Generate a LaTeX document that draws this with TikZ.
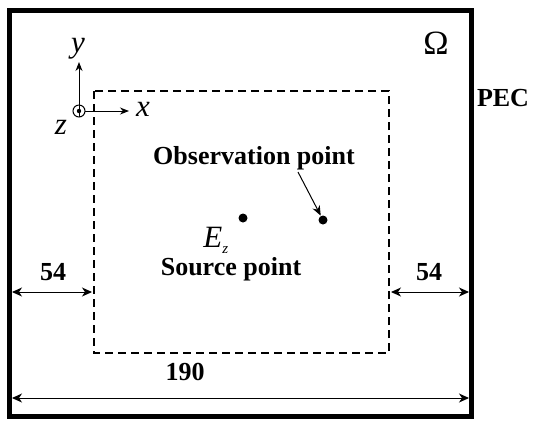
\documentclass[tikz,border=0pt]{standalone}
\usepackage{fontspec}
\setmainfont{Liberation Serif}
\usetikzlibrary{arrows.meta}
\begin{document}
\begin{tikzpicture}[x=0.5pt,y=-0.5pt,
  lbl/.style={font=\fontsize{13}{15}\selectfont\bfseries, inner sep=0pt},
  mathlbl/.style={font=\fontsize{15.5}{17}\selectfont\itshape, inner sep=0pt},
  dimarrow/.style={line width=0.5pt, {Stealth[length=5pt,width=4.5pt,inset=1.5pt]}-{Stealth[length=5pt,width=4.5pt,inset=1.5pt]}},
  axarrow/.style={line width=0.5pt, -{Stealth[length=4.5pt,width=3.5pt]}},
  dot/.style={circle, fill=black, inner sep=0pt, minimum size=4.5pt}]
\useasboundingbox (0,0) rectangle (536,420);
% outer PEC box
\draw[line width=2.25pt] (9.5,10.5) rectangle (471.5,416.5);
% dashed region
\draw[line width=1pt, dash pattern=on 4pt off 2.5pt] (94,91) rectangle (389,353);
% axes
\coordinate (o) at (79,111);
\coordinate (yend) at (79,62);
\coordinate (xend) at (129,111);
\draw[line width=0.5pt] (o) circle (3pt);
\fill (o) circle (1.1pt);
\draw[axarrow] ([yshift=-3pt]o) -- (yend);
\draw[axarrow] ([xshift=3pt]o) -- (xend);
\node[mathlbl] (ylab) at (78,49) {y};
\node[mathlbl] (xlab) at (143,109) {x};
\node[mathlbl] (zlab) at (61,127) {z};
% labels
\node[font=\fontsize{17}{20}\selectfont, inner sep=0pt] (omega) at (436,43) {Ω};
\node[lbl] (pec) at (503,98) {PEC};
% points
\node[lbl] (obslab) at (254,158) {Observation point};
\node[dot] (obs) at (323,220) {};
\node[dot] (src) at (243,218) {};
\coordinate (obsstart) at (298,172);
\draw[line width=0.5pt, -{Stealth[length=5pt,width=4pt]}] (obsstart) -- (obs);
\node[mathlbl, anchor=base west] (ez) at (203,247) {E\raisebox{-3pt}{\fontsize{7.5}{8}\selectfont z}};
\node[lbl] (srclab) at (231,269) {Source point};
% dimensions
\coordinate (l1) at (12,292);
\coordinate (l2) at (92,292);
\coordinate (r1) at (391,292);
\coordinate (r2) at (469,292);
\coordinate (b1) at (12,398);
\coordinate (b2) at (469,398);
\draw[dimarrow] (l1) -- (l2);
\draw[dimarrow] (r1) -- (r2);
\draw[dimarrow] (b1) -- (b2);
\node[lbl] (d1) at (53,272) {54};
\node[lbl] (d2) at (429,272) {54};
\node[lbl] (d3) at (185,372) {190};
\end{tikzpicture}
\end{document}
